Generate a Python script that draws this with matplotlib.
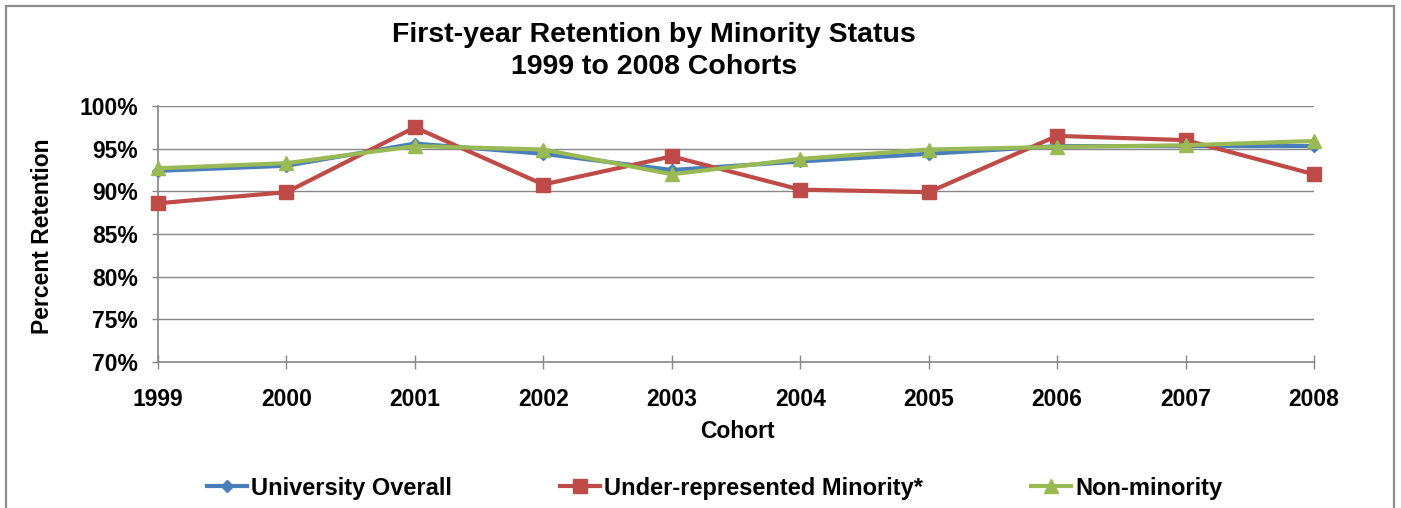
import matplotlib
matplotlib.use('Agg')
import matplotlib.pyplot as plt
from matplotlib.patches import Rectangle
from matplotlib.ticker import FuncFormatter

# data
years = [1999, 2000, 2001, 2002, 2003, 2004, 2005, 2006, 2007, 2008]
overall = [92.4, 93.0, 95.6, 94.4, 92.5, 93.5, 94.4, 95.3, 95.3, 95.3]
urm = [88.6, 89.9, 97.5, 90.8, 94.1, 90.2, 89.9, 96.5, 96.0, 92.0]
nonminority = [92.7, 93.3, 95.3, 94.9, 92.0, 93.8, 94.9, 95.2, 95.4, 95.9]

series_names = ['University Overall', 'Under-represented Minority*', 'Non-minority']
yticks = [70, 75, 80, 85, 90, 95, 100]

plt.rcParams['font.family'] = ['Liberation Sans', 'DejaVu Sans']
plt.rcParams['font.weight'] = 'bold'

W, H = 1401, 508
fig = plt.figure(figsize=(W / 100, H / 100), dpi=100)
fig.patch.set_facecolor('white')

# grey outer frame like the Excel chart area
fig.add_artist(Rectangle((6 / W, -0.05), 1388 / W, 1.05 - 6.5 / H,
                         transform=fig.transFigure, fill=False,
                         edgecolor='#8c8c8c', linewidth=1.6))

ax = fig.add_axes([158 / W, 1 - 362 / H, 1156 / W, 256 / H])

grey = '#868686'
ax.plot(years, overall, color='#4A7EBB', lw=3.0, marker='D', ms=6.5,
        label=series_names[0], clip_on=False, zorder=3)
ax.plot(years, urm, color='#BE4B48', lw=3.0, marker='s', ms=9.5,
        label=series_names[1], clip_on=False, zorder=4)
ax.plot(years, nonminority, color='#98B954', lw=3.0, marker='^', ms=10,
        label=series_names[2], clip_on=False, zorder=5)

ax.set_xlim(years[0], years[-1])
ax.set_ylim(70, 100)
ax.set_xticks(years)
ax.set_yticks(yticks)
ax.yaxis.set_major_formatter(FuncFormatter(lambda v, p: f'{v:.0f}%'))
ax.yaxis.grid(True, color=grey, lw=1.0)
ax.set_axisbelow(True)

for s in ['top', 'right']:
    ax.spines[s].set_visible(False)
for s in ['left', 'bottom']:
    ax.spines[s].set_color(grey)
    ax.spines[s].set_linewidth(1.2)

ax.tick_params(axis='x', direction='inout', length=10, width=1, color=grey,
               labelsize=16.5, pad=14)
ax.tick_params(axis='y', direction='out', length=4.5, width=1, color=grey,
               labelsize=16.5, pad=10)
for lab in ax.get_xticklabels() + ax.get_yticklabels():
    lab.set_fontweight('bold')

fig.text(654 / W, 1 - 35 / H, 'First-year Retention by Minority Status',
         ha='center', va='center', fontsize=20.5, fontweight='bold')
fig.text(654 / W, 1 - 67 / H, '1999 to 2008 Cohorts',
         ha='center', va='center', fontsize=20.5, fontweight='bold')
fig.text(43 / W, 1 - 236 / H, 'Percent Retention', rotation=90,
         ha='center', va='center', fontsize=16.5, fontweight='bold')
fig.text(737 / W, 1 - 432 / H, 'Cohort', ha='center', va='center',
         fontsize=16.5, fontweight='bold')

leg = fig.legend(loc='center', bbox_to_anchor=(714.5 / W, 1 - 488 / H), ncol=3,
                 frameon=False, prop={'size': 17, 'weight': 'bold'},
                 handlelength=1.7, handletextpad=0.15, columnspacing=4.6,
                 borderaxespad=0, borderpad=0)

fig.savefig('out.png', dpi=100, facecolor='white')
